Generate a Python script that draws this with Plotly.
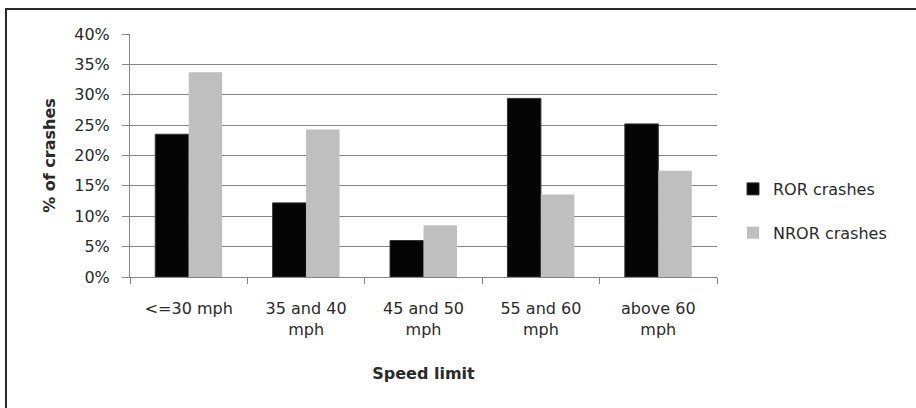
import plotly.graph_objects as go

categories = ["&lt;=30 mph", "35 and 40<br>mph", "45 and 50<br>mph", "55 and 60<br>mph", "above 60<br>mph"]
ror = [0.235, 0.122, 0.060, 0.294, 0.252]
nror = [0.337, 0.243, 0.085, 0.136, 0.175]

FONT = "DejaVu Sans"
FS = 16
TXT = "#2a2a2a"
GRID = "#868686"

fig = go.Figure()
fig.add_trace(go.Bar(x=categories, y=ror, name="ROR crashes", legendgroup="a",
                     marker=dict(color="#050505", line=dict(color="#333333", width=1))))
fig.add_trace(go.Bar(x=categories, y=nror, name="NROR crashes", legendgroup="b",
                     marker=dict(color="#BFBFBF", line=dict(width=0))))

L, R, T, B = 130, 717, 34, 277
W, H = 916, 408
pw, ph = R - L, B - T
def px(x): return (x - L) / pw
def py(y): return (B - y) / ph

fig.update_layout(
    width=W, height=H,
    margin=dict(l=L, r=W - R, t=T, b=H - B, autoexpand=False),
    paper_bgcolor="white", plot_bgcolor="white",
    barmode="group", bargap=0.43, bargroupgap=0,
    font=dict(family=FONT, size=FS, color=TXT),
    legend=dict(x=px(733), y=py(211), xanchor="left", yanchor="middle",
                font=dict(size=FS, color=TXT), tracegroupgap=20,
                itemwidth=30, bgcolor="rgba(0,0,0,0)"),
    xaxis=dict(showline=True, linecolor=GRID, linewidth=1,
               ticks="outside", tickson="boundaries", ticklen=6, tickcolor=GRID,
               ticklabelstandoff=17,
               title=dict(text="<b>Speed limit</b>", font=dict(size=FS), standoff=29),
               showgrid=False),
    yaxis=dict(range=[0, 0.4], dtick=0.05, tickformat=".0%",
               showline=True, linecolor=GRID, linewidth=1,
               ticks="outside", ticklen=7, tickcolor=GRID,
               ticklabelstandoff=9,
               gridcolor=GRID, gridwidth=1, zeroline=False,
               title=dict(text="<b>% of crashes</b>", font=dict(size=FS), standoff=14)),
    shapes=[dict(type="rect", xref="paper", yref="paper",
                 x0=px(6), x1=px(930), y0=py(420), y1=py(9),
                 line=dict(color="#2a2a2a", width=2), fillcolor="rgba(0,0,0,0)", layer="below")],
)

fig.write_html("out.html", config={"displayModeBar": False},
               post_script="document.body.style.margin='0px';")
